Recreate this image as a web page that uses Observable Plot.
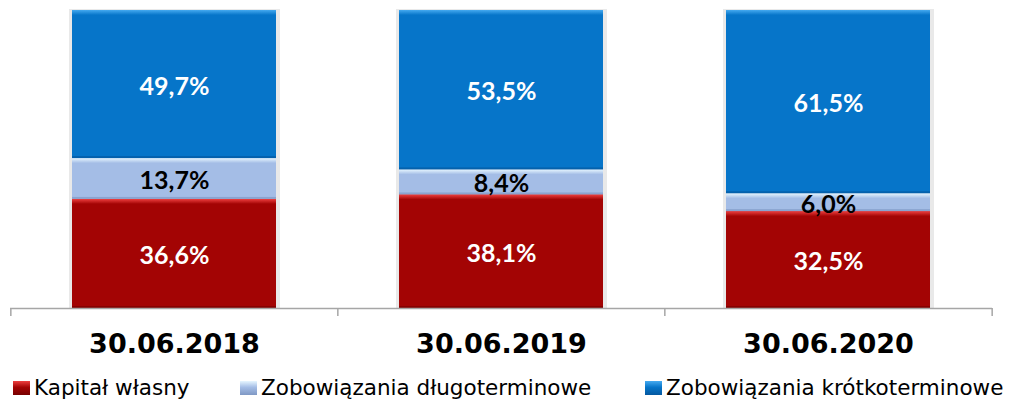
<!DOCTYPE html>
<html><head><meta charset="utf-8">
<script src="https://cdn.jsdelivr.net/npm/d3@7"></script>
<script src="https://cdn.jsdelivr.net/npm/@observablehq/plot@0.6"></script>
<style>
body{margin:0;background:#fff;}
#chart{width:1013px;height:402px;}
#chart svg{display:block;}
#chart svg g[aria-label="x-axis tick label"] text{font-weight:bold;}
.legend{position:relative;font-family:"DejaVu Sans";font-size:21.5px;height:24px;line-height:24px;white-space:nowrap;color:#000;margin-top:1px;}
.legend .item{position:absolute;top:0;display:flex;align-items:center;height:24px;}
.legend .item:nth-child(1){left:13px;}
.legend .item:nth-child(2){left:240px;}
.legend .item:nth-child(3){left:645px;}
.legend .sw{width:17px;height:14px;margin-right:4px;box-sizing:border-box;}
</style></head><body><div id="chart"></div>
<script>
const categories = ["30.06.2018", "30.06.2019", "30.06.2020"];
const seriesNames = ["Kapitał własny", "Zobowiązania długoterminowe", "Zobowiązania krótkoterminowe"];
const kapitalWlasny = [36.6, 38.1, 32.5];
const zobDlugoterminowe = [13.7, 8.4, 6.0];
const zobKrotkoterminowe = [49.7, 53.5, 61.5];
const colors = ["#A30404", "#A4BDE6", "#0675C9"];
const highlights = ["#EE4040", "#E6F6FF", "#45AAF0"];
const shades = ["#780000", "#7F98C4", "#0458A0"];
const labelColors = ["#ffffff", "#000000", "#ffffff"];

const seriesValues = [kapitalWlasny, zobDlugoterminowe, zobKrotkoterminowe];
const rows = [];
categories.forEach((c, i) => {
  let acc = 0;
  seriesValues.forEach((arr, s) => {
    rows.push({date: c, s, series: seriesNames[s], value: arr[i], y1: acc, y2: acc + arr[i]});
    acc += arr[i];
  });
});
const totals = categories.map((c, i) => ({date: c, total: d3.sum(seriesValues, a => a[i])}));

const W = 1013, H = 375, mL = 10, mR = 21, mT = 10, mB = 67;
const step = (W - mL - mR) / categories.length;

function defs() {
  const ns = "http://www.w3.org/2000/svg";
  const d = document.createElementNS(ns, "defs");
  colors.forEach((c, s) => {
    const g = document.createElementNS(ns, "linearGradient");
    g.setAttribute("id", "hl" + s);
    g.setAttribute("x1", "0"); g.setAttribute("y1", "0"); g.setAttribute("x2", "0"); g.setAttribute("y2", "1");
    [[0, highlights[s]], [1, c]].forEach(([o, col]) => {
      const st = document.createElementNS(ns, "stop");
      st.setAttribute("offset", o); st.setAttribute("stop-color", col);
      g.appendChild(st);
    });
    d.appendChild(g);
  });
  return d;
}

const chart = Plot.plot({
  width: W, height: H,
  marginLeft: mL, marginRight: mR, marginTop: mT, marginBottom: mB,
  style: {fontFamily: "DejaVu Sans", background: "#fff"},
  x: {domain: categories, paddingInner: 0.375, paddingOuter: 0.1875, label: null},
  y: {domain: [0, 100], axis: null},
  color: {type: "identity"},
  marks: [
    defs,
    Plot.barY(totals, {x: "date", y1: 0, y2: "total", fill: "#e9e9e9", insetLeft: -3, insetRight: -4, insetTop: -1}),
    Plot.barY(rows, {x: "date", y1: "y1", y2: "y2", fill: d => colors[d.s]}),
    Plot.barY(rows, {x: "date", y1: "y2", y2: "y2", insetBottom: -5, fill: d => `url(#hl${d.s})`}),
    Plot.barY(rows, {x: "date", y1: "y1", y2: "y1", insetTop: -2, fill: d => shades[d.s], fillOpacity: 0.7}),
    Plot.ruleY([0], {stroke: "#a6a6a6", strokeWidth: 1.5}),
    Plot.ruleX(categories, {x: d => d, dx: -step / 2, y1: 0, y2: 0, insetBottom: -8, stroke: "#a6a6a6", strokeWidth: 1.5}),
    Plot.ruleX(categories.slice(-1), {x: d => d, dx: step / 2, y1: 0, y2: 0, insetBottom: -8, stroke: "#a6a6a6", strokeWidth: 1.5}),
    Plot.axisX({tickSize: 0, tickPadding: 25, fontSize: 27, fill: "#000", label: null}),
    Plot.text(rows, {
      x: "date", y: d => (d.y1 + d.y2) / 2,
      text: d => d.value.toFixed(1).replace(".", ",") + "%",
      fill: d => labelColors[d.s],
      dy: 2,
      fontSize: 25, fontWeight: "bold", fontFamily: "Lato"
    })
  ]
});

const root = document.getElementById("chart");
root.appendChild(chart);
const legend = document.createElement("div");
legend.className = "legend";
seriesNames.forEach((n, s) => {
  const it = document.createElement("div");
  it.className = "item";
  const sw = document.createElement("span");
  sw.className = "sw";
  sw.style.background = `linear-gradient(${highlights[s]}, ${colors[s]} 45%, ${shades[s]})`;
  const tx = document.createElement("span");
  tx.textContent = n;
  it.appendChild(sw); it.appendChild(tx);
  legend.appendChild(it);
});
root.appendChild(legend);
</script></body></html>
